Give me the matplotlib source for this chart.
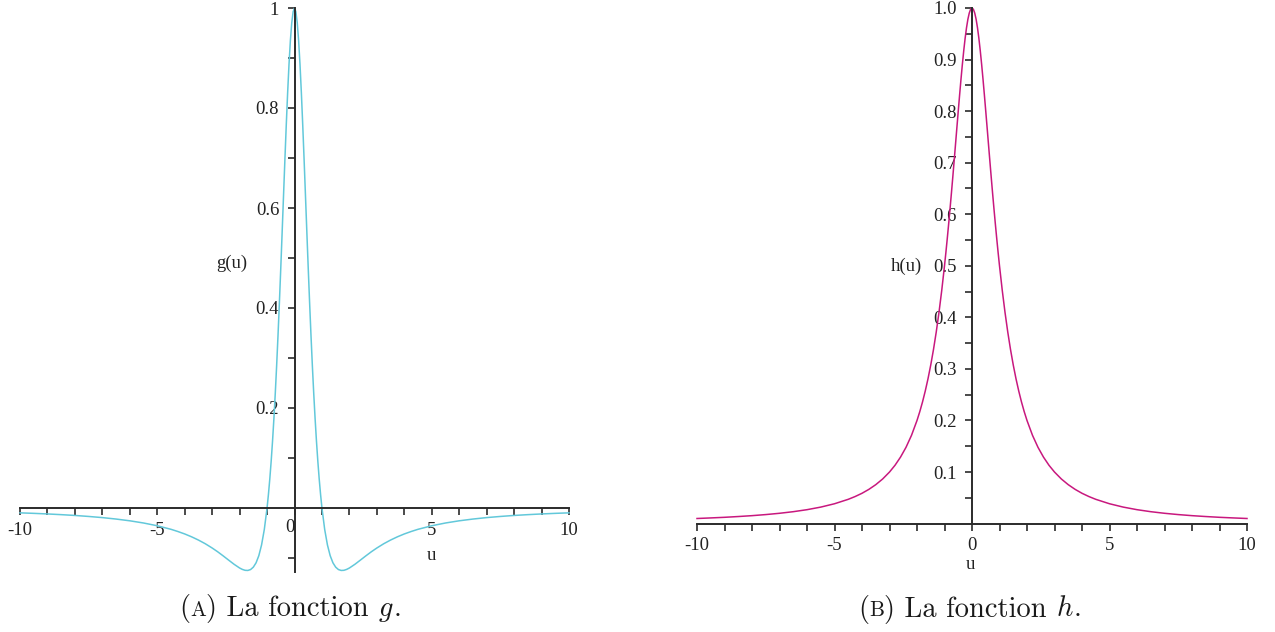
import matplotlib
matplotlib.use("Agg")
import matplotlib.pyplot as plt
from matplotlib.offsetbox import TextArea, HPacker, AnchoredOffsetbox

plt.rcParams['font.family'] = ['Liberation Serif', 'DejaVu Serif']
plt.rcParams['mathtext.fontset'] = 'cm'
plt.rcParams['axes.unicode_minus'] = False

# ---------------- data ----------------
u = [-10, -9.5, -9, -8.5, -8, -7.5, -7, -6.5, -6, -5.5, -5, -4.5, -4.25, -4,
     -3.75, -3.5, -3.25, -3, -2.8, -2.6, -2.4, -2.2, -2, -1.9, -1.8, -1.7,
     -1.6, -1.5, -1.4, -1.3, -1.2, -1.1, -1.0, -0.95, -0.9, -0.85, -0.8,
     -0.75, -0.7, -0.65, -0.6, -0.55, -0.5, -0.45, -0.4, -0.35, -0.3, -0.25,
     -0.2, -0.15, -0.1, -0.05, 0,
     0.05, 0.1, 0.15, 0.2, 0.25, 0.3, 0.35, 0.4, 0.45, 0.5, 0.55, 0.6, 0.65,
     0.7, 0.75, 0.8, 0.85, 0.9, 0.95, 1.0, 1.1, 1.2, 1.3, 1.4, 1.5, 1.6, 1.7,
     1.8, 1.9, 2, 2.2, 2.4, 2.6, 2.8, 3, 3.25, 3.5, 3.75, 4, 4.25, 4.5, 5,
     5.5, 6, 6.5, 7, 7.5, 8, 8.5, 9, 9.5, 10]

g_vals = [-0.0097, -0.0107, -0.0119, -0.0133, -0.0149, -0.0169, -0.0192,
          -0.0221, -0.0256, -0.0300, -0.0355, -0.0426, -0.0470, -0.0519,
          -0.0576, -0.0641, -0.0715, -0.0800, -0.0875, -0.0957, -0.1042,
          -0.1126, -0.1200, -0.1228, -0.1246, -0.1249, -0.1231, -0.1183,
          -0.1096, -0.0954, -0.0739, -0.0430, 0.0, 0.0269, 0.0580, 0.0935,
          0.1338, 0.1792, 0.2297, 0.2854, 0.3460, 0.4111, 0.4800, 0.5515,
          0.6243, 0.6964, 0.7659, 0.8305, 0.8876, 0.9350, 0.9705, 0.9925, 1.0,
          0.9925, 0.9705, 0.9350, 0.8876, 0.8305, 0.7659, 0.6964, 0.6243,
          0.5515, 0.4800, 0.4111, 0.3460, 0.2854, 0.2297, 0.1792, 0.1338,
          0.0935, 0.0580, 0.0269, 0.0, -0.0430, -0.0739, -0.0954, -0.1096,
          -0.1183, -0.1231, -0.1249, -0.1246, -0.1228, -0.1200, -0.1126,
          -0.1042, -0.0957, -0.0875, -0.0800, -0.0715, -0.0641, -0.0576,
          -0.0519, -0.0470, -0.0426, -0.0355, -0.0300, -0.0256, -0.0221,
          -0.0192, -0.0169, -0.0149, -0.0133, -0.0119, -0.0107, -0.0097]

h_vals = [0.0099, 0.0110, 0.0122, 0.0137, 0.0154, 0.0175, 0.0200, 0.0231,
          0.0270, 0.0320, 0.0385, 0.0471, 0.0525, 0.0588, 0.0664, 0.0755,
          0.0865, 0.1000, 0.1131, 0.1289, 0.1479, 0.1712, 0.2000, 0.2169,
          0.2358, 0.2571, 0.2809, 0.3077, 0.3378, 0.3717, 0.4098, 0.4525,
          0.5000, 0.5256, 0.5525, 0.5806, 0.6098, 0.6400, 0.6711, 0.7030,
          0.7353, 0.7678, 0.8000, 0.8316, 0.8621, 0.8909, 0.9174, 0.9412,
          0.9615, 0.9780, 0.9901, 0.9975, 1.0,
          0.9975, 0.9901, 0.9780, 0.9615, 0.9412, 0.9174, 0.8909, 0.8621,
          0.8316, 0.8000, 0.7678, 0.7353, 0.7030, 0.6711, 0.6400, 0.6098,
          0.5806, 0.5525, 0.5256, 0.5000, 0.4525, 0.4098, 0.3717, 0.3378,
          0.3077, 0.2809, 0.2571, 0.2358, 0.2169, 0.2000, 0.1712, 0.1479,
          0.1289, 0.1131, 0.1000, 0.0865, 0.0755, 0.0664, 0.0588, 0.0525,
          0.0471, 0.0385, 0.0320, 0.0270, 0.0231, 0.0200, 0.0175, 0.0154,
          0.0137, 0.0122, 0.0110, 0.0099]

x_major = [-10, -5, 0, 5, 10]
x_minor = [-9, -8, -7, -6, -4, -3, -2, -1, 1, 2, 3, 4, 6, 7, 8, 9]
x_labels_a = ['-10', '-5', '', '5', '10']
x_labels_b = ['-10', '-5', '0', '5', '10']

g_major = [0.2, 0.4, 0.6, 0.8, 1.0]
g_labels = ['0.2', '0.4', '0.6', '0.8', '1']
g_minor = [-0.1, 0.1, 0.3, 0.5, 0.7, 0.9]

h_major = [0.1, 0.2, 0.3, 0.4, 0.5, 0.6, 0.7, 0.8, 0.9, 1.0]
h_labels = ['0.1', '0.2', '0.3', '0.4', '0.5', '0.6', '0.7', '0.8', '0.9', '1.0']
h_minor = [0.05, 0.15, 0.25, 0.35, 0.45, 0.55, 0.65, 0.75, 0.85, 0.95]

# ---------------- figure ----------------
W, H = 1275, 632
fig = plt.figure(figsize=(W / 100, H / 100), dpi=100)

def fx(px):
    return px / W

def fy(py):
    return 1 - py / H

axcol = '#2b2b2b'
txtcol = '#222222'
fs = 13.5

def style(ax):
    for s in ('top', 'right'):
        ax.spines[s].set_visible(False)
    ax.spines['left'].set_position(('data', 0))
    ax.spines['bottom'].set_position(('data', 0))
    for s in ('left', 'bottom'):
        ax.spines[s].set_color(axcol)
        ax.spines[s].set_linewidth(1.4)
    ax.tick_params(which='both', direction='out', length=5, width=1.2,
                   color=axcol, labelsize=fs, labelcolor=txtcol)
    ax.tick_params(axis='x', which='both', pad=5)
    ax.tick_params(axis='y', which='both', pad=6)
    ax.patch.set_visible(False)

# ---- left: g ----
axA = fig.add_axes([fx(20), fy(572), fx(569) - fx(20), fy(8) - fy(572)])
axA.plot(u, g_vals, color='#62c8da', lw=1.1, clip_on=False)
axA.set_xlim(-10, 10)
axA.set_ylim(-0.128, 1.0)
style(axA)
axA.set_xticks(x_major)
axA.set_xticklabels(x_labels_a)
axA.set_xticks(x_minor, minor=True)
axA.set_yticks(g_major)
axA.set_yticklabels(g_labels)
axA.set_yticks(g_minor, minor=True)
axA.annotate('0', xy=(0, 0), xycoords='data', xytext=(-5, -11),
             textcoords='offset pixels', ha='center', va='top', fontsize=fs,
             color=txtcol)
axA.text(-2.3, 0.49, 'g(u)', fontsize=fs, ha='center', va='center', color=txtcol)
axA.text(5, -0.094, 'u', fontsize=fs, ha='center', va='center', color=txtcol)

# ---- right: h ----
axB = fig.add_axes([fx(697), fy(523.6), fx(1247) - fx(697), fy(8) - fy(523.6)])
axB.plot(u, h_vals, color='#c8187e', lw=1.1, clip_on=False)
axB.set_xlim(-10, 10)
axB.set_ylim(0, 1.0)
style(axB)
axB.set_xticks(x_major)
axB.set_xticklabels(x_labels_b)
axB.set_xticks(x_minor, minor=True)
axB.set_yticks(h_major)
axB.set_yticklabels(h_labels)
axB.set_yticks(h_minor, minor=True)
axB.text(-2.4, 0.499, 'h(u)', fontsize=fs, ha='center', va='center', color=txtcol)
axB.text(-0.05, -0.08, 'u', fontsize=fs, ha='center', va='center', color=txtcol)

# ---- captions ----
cap = 20.5
def caption(letter, var, cx, cy):
    tp = dict(fontsize=cap, family='cmr10', color='#1a1a1a')
    tps = dict(fontsize=cap * 0.74, family='cmr10', color='#1a1a1a')
    tpm = dict(fontsize=cap, color='#1a1a1a')
    parts = [TextArea('(', textprops=tp),
             TextArea(letter, textprops=tps),
             TextArea(') La fonction ', textprops=tp),
             TextArea('$' + var + '$', textprops=tpm),
             TextArea('.', textprops=tp)]
    box = HPacker(children=parts, align='baseline', pad=0, sep=0)
    ab = AnchoredOffsetbox(loc='center', child=box, frameon=False, pad=0,
                           borderpad=0, bbox_to_anchor=(fx(cx), fy(cy)),
                           bbox_transform=fig.transFigure)
    fig.add_artist(ab)

caption('A', 'g', 290, 609)
caption('B', 'h', 970, 609)

fig.savefig('out.png', dpi=100)
